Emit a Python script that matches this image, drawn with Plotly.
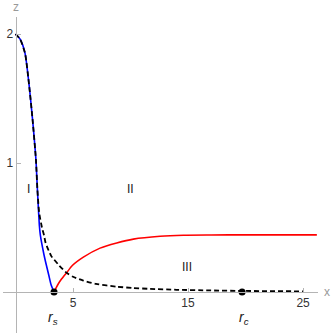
import plotly.graph_objects as go

# curve readings (x, z)
blue_x = [0, 0.4, 0.83, 1.2, 1.49, 1.78, 1.9, 2.02, 2.08, 2.16, 2.48, 2.68, 2.89, 3.1, 3.35]
blue_z = [2.0, 1.96, 1.85, 1.59, 1.33, 1.02, 0.8, 0.6, 0.51, 0.44, 0.287, 0.209, 0.132, 0.054, 0.0]

dash_x = [0, 0.4, 0.83, 1.2, 1.49, 1.78, 1.9, 2.05, 2.3, 2.48, 2.62, 3.1, 3.37, 3.8, 4.4, 5.0,
          5.9, 7.0, 8.8, 10.2, 11.7, 14.0, 17.0, 20.0, 25.0]
dash_z = [2.0, 1.96, 1.85, 1.59, 1.33, 1.02, 0.8, 0.62, 0.5, 0.44, 0.38, 0.28, 0.25, 0.205, 0.152, 0.118,
          0.088, 0.063, 0.041, 0.031, 0.024, 0.017, 0.012, 0.008, 0.005]

red_x = [3.35, 3.7, 4.0, 4.45, 4.94, 5.9, 7.35, 8.8, 10.25, 12.57, 14.6, 17.0, 20.0, 26.2]
red_z = [0.0, 0.06, 0.1, 0.15, 0.205, 0.27, 0.34, 0.38, 0.41, 0.432, 0.44, 0.442, 0.443, 0.443]

r_s = 3.35
r_c = 19.7

x_ticks = [5, 15, 25]
z_ticks = [1, 2]

regions = ["I", "II", "III"]
region_x = [1.09, 9.96, 14.94]
region_z = [0.8, 0.8, 0.196]

x_range = [-1.087, 26.3]
z_range = [-0.318, 2.132]

axis_gray = "#b4b4b4"
font = "Liberation Sans, Arial, sans-serif"

fig = go.Figure()
fig.add_trace(go.Scatter(x=blue_x, y=blue_z, mode="lines", line=dict(color="#0000ff", width=1.6, shape="spline", smoothing=0.6)))
fig.add_trace(go.Scatter(x=red_x, y=red_z, mode="lines", line=dict(color="#ff0000", width=1.6, shape="spline", smoothing=0.6)))
fig.add_trace(go.Scatter(x=dash_x, y=dash_z, mode="lines",
                         line=dict(color="black", width=1.8, dash="5px,3px", shape="spline", smoothing=0.6)))
fig.add_trace(go.Scatter(x=[r_s, r_c], y=[0, 0], mode="markers", marker=dict(color="black", size=7), cliponaxis=False))

for name, rx, rz in zip(regions, region_x, region_z):
    fig.add_annotation(x=rx, y=rz, text=name, showarrow=False, font=dict(size=12, color="#222", family=font))

for name, rx in zip(["s", "c"], [r_s - 0.1, r_c + 0.15]):
    fig.add_annotation(x=rx, y=-0.2, text="<i>r</i><sub><i>" + name + "</i></sub>", showarrow=False,
                       font=dict(size=14, color="#222", family=font))

x0_paper = (0 - x_range[0]) / (x_range[1] - x_range[0])
z0_paper = (0 - z_range[0]) / (z_range[1] - z_range[0])

fig.add_annotation(xref="paper", yref="paper", x=1.0286, y=z0_paper, xanchor="center", yanchor="middle",
                   text="x", showarrow=False, font=dict(size=12, color="#999", family=font))
fig.add_annotation(xref="paper", yref="paper", x=x0_paper + 0.002, y=1.0316, xanchor="center", yanchor="middle",
                   text="z", showarrow=False, font=dict(size=12, color="#999", family=font))

fig.update_layout(
    width=332, height=336,
    margin=dict(l=3, r=14, t=17, b=3, autoexpand=False),
    plot_bgcolor="white", paper_bgcolor="white",
    showlegend=False,
    font=dict(family=font, size=12, color="#333"),
    xaxis=dict(range=x_range, anchor="free", position=z0_paper, showline=True, linecolor=axis_gray, linewidth=1,
               ticks="inside", ticklen=4, tickcolor=axis_gray, tickvals=x_ticks, showgrid=False, zeroline=False,
               automargin=False),
    yaxis=dict(range=z_range, anchor="free", position=x0_paper, showline=True, linecolor=axis_gray, linewidth=1,
               ticks="inside", ticklen=4, tickcolor=axis_gray, tickvals=z_ticks, showgrid=False, zeroline=False,
               automargin=False),
)

fig.write_html("out.html", config={"displayModeBar": False},
               post_script="document.body.style.margin='0';document.body.style.overflow='hidden';")
